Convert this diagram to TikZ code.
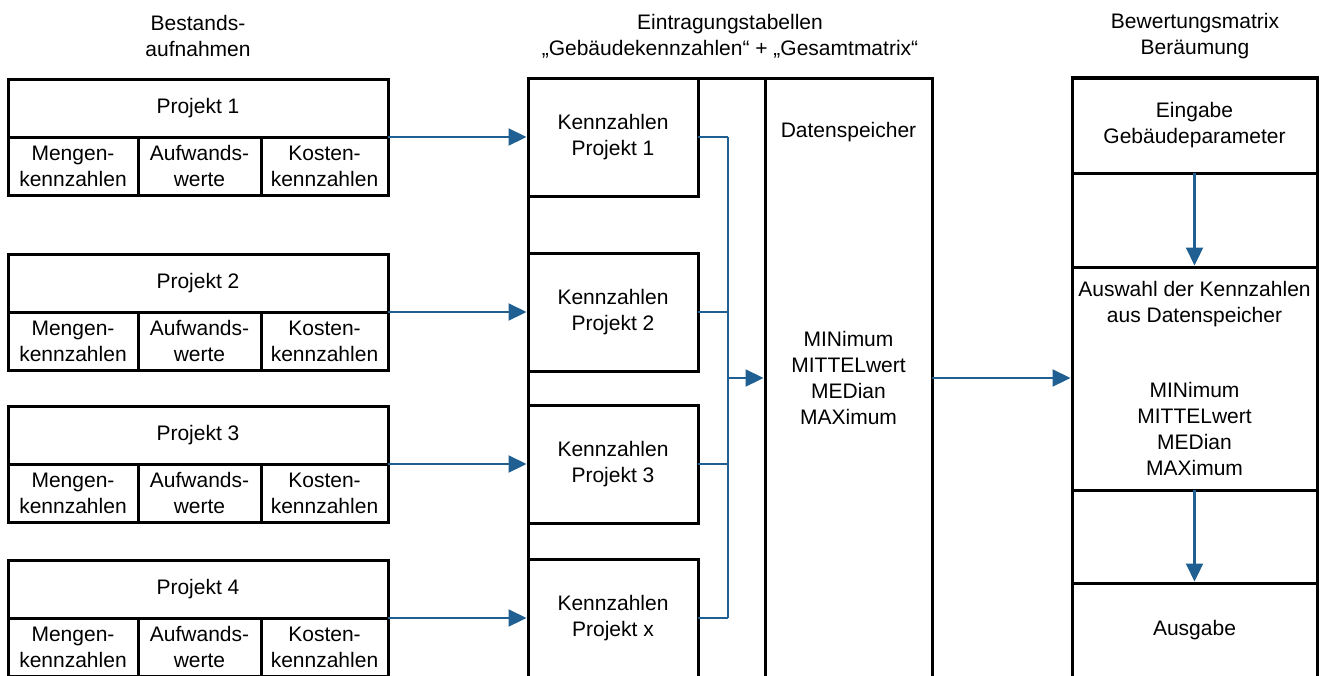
\documentclass[tikz,border=0pt]{standalone}
\usepackage{fontspec}
\setmainfont{Liberation Sans}
\usetikzlibrary{arrows.meta}
\definecolor{flowblue}{RGB}{31,95,145}
\begin{document}
\begin{tikzpicture}[x=1pt,y=-1pt,
  txt/.style={font=\fontsize{21}{26}\selectfont, align=center, inner sep=0pt},
  cell/.style={txt, draw, line width=3pt, outer sep=0pt},
  frame/.style={draw, line width=3pt},
  flow/.style={draw=flowblue, line width=2.2pt},
  flowarrow/.style={flow, shorten >=1.5pt, -{Triangle[length=18pt,width=17pt]}}]
\useasboundingbox (0,0) rectangle (1327,675);
\clip (0,0) rectangle (1327,675);

% column headings
\node[txt] (h1) at (198,36) {Bestands-\\aufnahmen};
\node[txt] (h2) at (730,36) {Eintragungstabellen\\„Gebäudekennzahlen“ + „Gesamtmatrix“};
\node[txt] (h3) at (1195,36) {Bewertungsmatrix\\Beräumung};

% middle and right frames
\draw[frame] (528,78) rectangle (932,700);
\draw[frame] (1072,78) rectangle (1317,700);

% survey tables per project and their key-figure tables
\foreach \i/\t/\k in {1/79/1, 2/254/2, 3/406/3, 4/560/x} {
  \node[cell, minimum width=380pt, minimum height=58pt] (p\i) at (198,\t+29) {Projekt \i};
  \node[cell, minimum width=130pt, minimum height=58pt] (m\i) at (73,\t+87) {Mengen-\\kennzahlen};
  \node[cell, minimum width=123pt, minimum height=58pt] (a\i) at (199.5,\t+87) {Aufwands-\\werte};
  \node[cell, minimum width=127pt, minimum height=58pt] (c\i) at (324.5,\t+87) {Kosten-\\kennzahlen};
  \node[cell, minimum width=170pt, minimum height=118pt] (k\i) at (613,\t+58) {Kennzahlen\\Projekt \k};
}

% data store
\node[cell, minimum width=167pt, minimum height=600pt] (ds) at (848.5,378) {MINimum\\MITTELwert\\MEDian\\MAXimum};
\node[txt] (dslabel) at (848.5,132) {Datenspeicher};

% evaluation matrix
\node[cell, minimum width=245pt, minimum height=96pt] (in) at (1194.5,125) {Eingabe\\Gebäudeparameter};
\node[cell, minimum width=245pt, minimum height=223pt] (sel) at (1194.5,378.5)
  {Auswahl der Kennzahlen\\aus Datenspeicher\\[49pt]MINimum\\MITTELwert\\MEDian\\MAXimum};
\node[cell, minimum width=245pt, minimum height=94pt] (out) at (1194.5,630) {Ausgabe};

% connectors
\foreach \i in {1,...,4} {
  \draw[flowarrow] (p\i.south east) -- (p\i.south east -| k\i.west);
}
\coordinate (bus) at (728,378);
\foreach \i in {1,...,4} {
  \draw[flow] (k\i.east) -- (k\i.east -| bus);
}
\draw[flow] (k1.east -| bus) -- (k4.east -| bus);
\draw[flowarrow] (bus) -- (bus -| ds.west);
\draw[flowarrow] (ds.east) -- (ds.east -| sel.west);
\draw[flowarrow] (in.south) -- (sel.north);
\draw[flowarrow] (sel.south) -- (out.north);
\end{tikzpicture}
\end{document}
